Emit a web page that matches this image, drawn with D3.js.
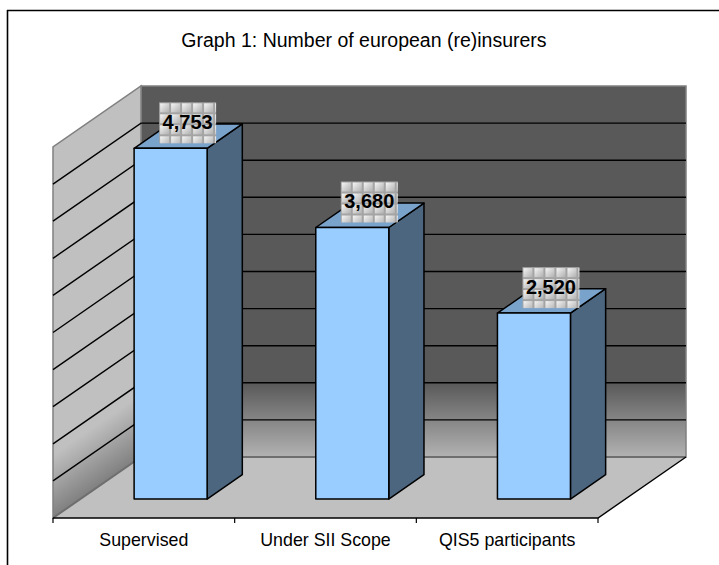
<!DOCTYPE html>
<html><head><meta charset="utf-8">
<script src="https://cdn.jsdelivr.net/npm/d3@7/dist/d3.min.js"></script>
<style>html,body{margin:0;padding:0;background:#fff}svg{display:block}text{font-family:"Liberation Sans",Arial,sans-serif}</style>
</head><body><svg id="c" width="719" height="565"></svg>
<script>
const chartTitle = "Graph 1: Number of european (re)insurers";
const categories = ["Supervised", "Under SII Scope", "QIS5 participants"];
const values = [4753, 3680, 2520];
const gridValues = [500,1000,1500,2000,2500,3000,3500,4000,4500];

const svg = d3.select("#c");
const defs = svg.append("defs");

// projection of the oblique 3D box
const frontY0 = 518, depthX = 88, depthY = 61;
const x = d3.scaleBand().domain(categories).range([53, 598]).paddingInner(0).paddingOuter(0);
const y = d3.scaleLinear().domain([0, 5000]).range([0, 371]);
const yBar = d3.scaleLinear().domain([0, 5000]).range([0, 369]);
const P = (px, v, d) => [px + depthX * d, frontY0 - y(v) - depthY * d];
const B = (px, v, d) => [px + depthX * d, frontY0 - yBar(v) - depthY * d];
const path = pts => "M" + pts.map(p => p.join(",")).join("L") + "Z";
const x0 = x.range()[0], x1 = x.range()[1];

const backGrad = defs.append("linearGradient").attr("id","back").attr("x1",0).attr("y1",0).attr("x2",0).attr("y2",1);
[[0,"#595959"],[0.8,"#595959"],[1,"#b2b2b2"]].forEach(s=>backGrad.append("stop").attr("offset",s[0]).attr("stop-color",s[1]));
const sideGrad = defs.append("linearGradient").attr("id","side").attr("gradientUnits","userSpaceOnUse")
  .attr("x1",x0).attr("y1",455).attr("x2",x0+29.5).attr("y2",497.6);
[[0,"#c0c0c0"],[1,"#808080"]].forEach(s=>sideGrad.append("stop").attr("offset",s[0]).attr("stop-color",s[1]));

// label texture: one bevelled tile repeated
const tile = defs.append("linearGradient").attr("id","tile").attr("x1",0).attr("y1",0).attr("x2",1).attr("y2",1);
[[0,"#f6f6f6"],[0.5,"#d2d2d2"],[1,"#b0b0b0"]].forEach(s=>tile.append("stop").attr("offset",s[0]).attr("stop-color",s[1]));
const pat = defs.append("pattern").attr("id","tex").attr("patternUnits","userSpaceOnUse").attr("width",11).attr("height",11);
pat.append("rect").attr("width",11).attr("height",11).attr("fill","#a4a4a4");
pat.append("rect").attr("x",1).attr("y",1).attr("width",9).attr("height",9).attr("fill","url(#tile)");

// frame (left and top edges only)
svg.append("line").attr("x1",7.5).attr("y1",10).attr("x2",7.5).attr("y2",565).attr("stroke","#000").attr("stroke-width",1.6);
svg.append("line").attr("x1",7).attr("y1",10.5).attr("x2",719).attr("y2",10.5).attr("stroke","#000").attr("stroke-width",1.6);

svg.append("text").attr("x",364).attr("y",47).attr("text-anchor","middle").attr("font-size",19.5).attr("fill","#000").text(chartTitle);

// walls and floor
svg.append("path").attr("d",path([P(x0,0,1),P(x1,0,1),P(x1,5000,1),P(x0,5000,1)])).attr("fill","url(#back)").attr("stroke","#808080").attr("stroke-width",1.5);
svg.append("path").attr("d",path([P(x0,0,0),P(x0,0,1),P(x0,5000,1),P(x0,5000,0)])).attr("fill","url(#side)").attr("stroke","#808080").attr("stroke-width",1.5);
svg.append("path").attr("d",path([P(x0,0,0),P(x1,0,0),P(x1,0,1),P(x0,0,1)])).attr("fill","#c0c0c0");
// grid
const gridPath = v => d3.line()([P(x0,v,0),P(x0,v,1),P(x1,v,1)]);
svg.append("g").selectAll("path").data(gridValues).join("path").attr("d",gridPath).attr("fill","none").attr("stroke","#000").attr("stroke-width",1.4);
svg.append("path").attr("d",d3.line()([P(x0,0,0),P(x0,0,1),P(x1,0,1)])).attr("fill","none").attr("stroke","#6e6e6e").attr("stroke-width",2);
// floor edges and axis
svg.append("path").attr("d",d3.line()([P(x1,0,1),P(x1,0,0),P(x0,0,0)])).attr("fill","none").attr("stroke","#000").attr("stroke-width",1.4);
const tickXs = [x0].concat(categories.map(c=>x(c)+x.bandwidth()));
svg.append("g").selectAll("line").data(tickXs).join("line").attr("x1",d=>d).attr("x2",d=>d).attr("y1",frontY0).attr("y2",frontY0+5).attr("stroke","#000").attr("stroke-width",1.2);
svg.append("g").selectAll("text").data(categories).join("text")
  .attr("x",d=>x(d)+x.bandwidth()/2).attr("y",546).attr("text-anchor","middle").attr("font-size",17.8).text(d=>d);

// bars
const barW = 73, barD0 = 0.31, barD1 = 0.71;
const bars = svg.append("g").selectAll("g").data(categories.map((c,i)=>({c,v:values[i]}))).join("g");
const bx = d => x(d.c) + x.bandwidth()/2 - barW/2 - 0.5 ;
const style = s => s.attr("stroke","#000").attr("stroke-width",1.5).attr("stroke-linejoin","round");
bars.append("path").attr("d",d=>{const l=bx(d),r=l+barW;return path([B(r,0,barD0),B(r,0,barD1),B(r,d.v,barD1),B(r,d.v,barD0)]);}).attr("fill","#4c6680").call(style);
bars.append("path").attr("d",d=>{const l=bx(d),r=l+barW;return path([B(l,d.v,barD0),B(r,d.v,barD0),B(r,d.v,barD1),B(l,d.v,barD1)]);}).attr("fill","#7aa3cc").call(style);
bars.append("path").attr("d",d=>{const l=bx(d),r=l+barW;return path([B(l,0,barD0),B(r,0,barD0),B(r,d.v,barD0),B(l,d.v,barD0)]);}).attr("fill","#99ccff").call(style);

// data labels
const lw = 57, lh = 41;
const lab = bars.append("g").attr("transform",d=>{const p=B(bx(d),d.v,barD0);return `translate(${p[0]+25},${p[1]-46})`;});
lab.append("rect").attr("width",lw).attr("height",lh).attr("fill","url(#tex)");
lab.append("text").attr("x",lw/2).attr("y",lh/2+6).attr("text-anchor","middle").attr("font-size",20).attr("font-weight","bold").attr("fill","#000").text(d=>d3.format(",")(d.v));
</script></body></html>
